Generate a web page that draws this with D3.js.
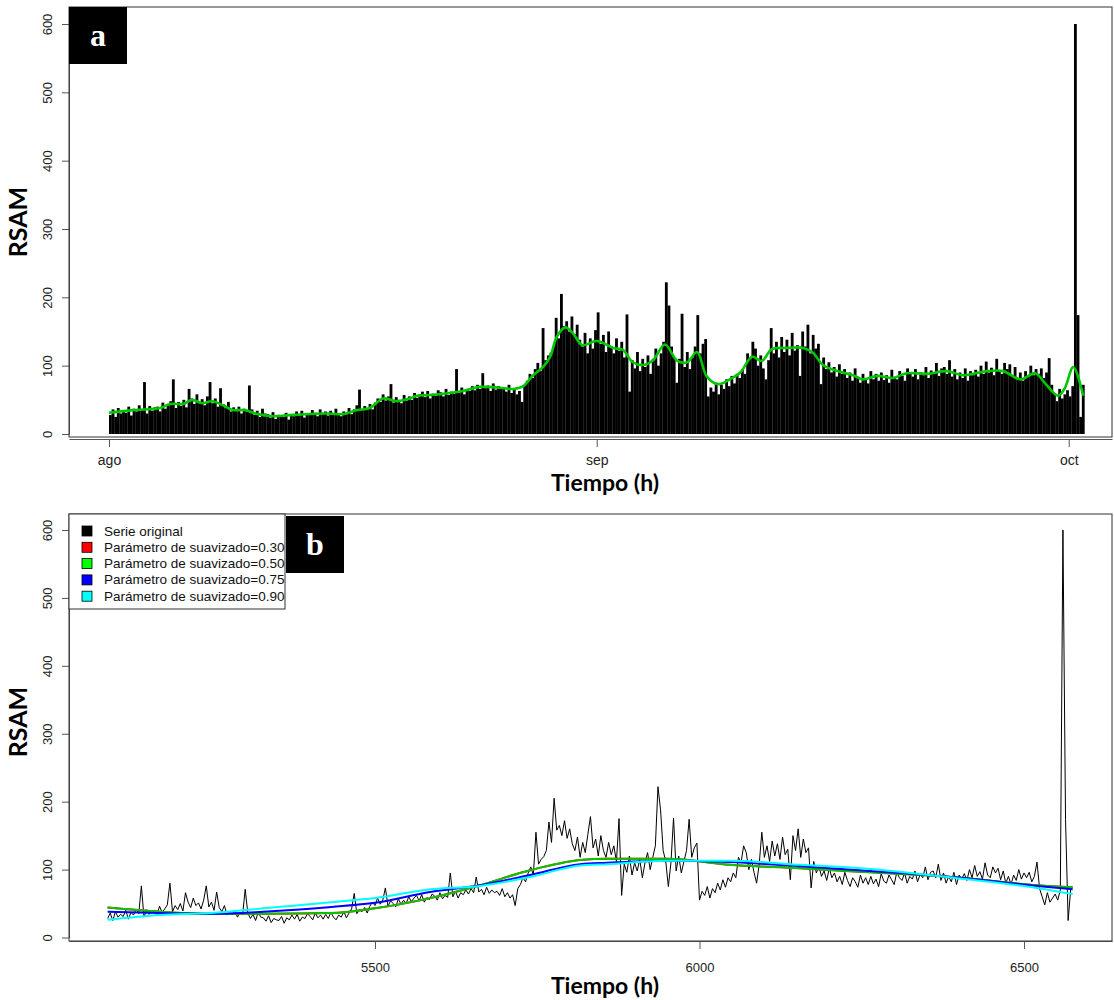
<!DOCTYPE html>
<html>
<head>
<meta charset="utf-8">
<script src="https://cdn.jsdelivr.net/npm/d3@7"></script>
<style>
body { margin: 0; background: #fff; }
</style>
</head>
<body>
<script>
// serie RSAM, un valor cada 4 horas desde el 1 de agosto (hora 5088 del año)
var startHour = 5088;
var stepHours = 4;
var rsam = [
  28, 36, 25, 38, 30, 34,   31, 40, 27, 37, 33, 42,   35, 76, 30, 41, 34, 39,
  40, 33, 46, 37, 42, 48,   80, 38, 47, 41, 50, 39,   66, 52, 44, 58, 47, 51,
  42, 55, 76, 45, 52, 40,   67, 44, 38, 47, 33, 39,   34, 40, 30, 37, 33, 71,
  36, 28, 34, 25, 37, 30,   29, 24, 32, 22, 28, 26,   25, 31, 21, 29, 26, 33,
  27, 34, 24, 30, 28, 35,   31, 26, 36, 29, 33, 27,   34, 28, 37, 30, 26, 33,
  30, 38, 29, 36, 42, 65,   35, 41, 38, 44, 36, 46,   52, 47, 58, 49, 55, 73,
  46, 54, 50, 45, 57, 49,   55, 50, 60, 53, 58, 62,   54, 63, 52, 59, 56, 64,
  61, 55, 66, 57, 62, 59,   95, 60, 68, 58, 66, 63,   70, 64, 72, 66, 89, 67,
  71, 63, 74, 65, 70, 66,   68, 62, 72, 60, 66, 58,   63, 47, 72, 78, 88, 82,
  95, 104, 92, 155, 108, 115,   119, 128, 170, 140, 205, 158,   165, 150, 172, 146, 160, 138,
  128, 148, 118, 140, 125, 152,   178, 132, 145, 120, 150, 128,   118, 140, 122, 135, 112, 175,
  62, 108, 96, 120, 92, 110,   98, 115, 88, 110, 125, 100,   118, 135, 222, 188, 128, 112,
  75, 110, 176, 98, 120, 95,   112, 128, 174, 118, 132, 139,   55, 68, 62, 75, 58, 72,
  66, 80, 70, 85, 74, 88,   82, 95, 88, 118, 110, 135,   125, 100, 115, 96, 80, 108,
  155, 118, 135, 112, 142, 120,   138, 115, 148, 122, 130, 85,   150, 128, 160, 118, 145, 125,
  132, 73, 112, 95, 105, 90,   98, 84, 102, 88, 95, 82,   90, 78, 96, 84, 75, 88,
  82, 74, 92, 80, 88, 78,   90, 79, 86, 75, 94, 83,   80, 92, 85, 78, 96, 88,
  84, 95, 80, 90, 86, 98,   82, 93, 88, 104, 85, 96,   98, 88, 108, 84, 95, 80,
  90, 82, 96, 78, 92, 86,   94, 84, 100, 88, 106, 90,   97, 86, 110, 92, 88, 104,
  95, 102, 85, 98, 80, 90,   78, 92, 84, 100, 86, 95,   88, 96, 82, 90, 111, 72,
  60, 48, 66, 52, 58, 64,   55, 70, 600, 174, 25, 72
];

// suavizado del panel a (horas desde el 1 de agosto)
var smoothAHours = [0, 37, 78, 93, 113, 127, 142, 157, 174, 189, 207, 223, 250, 281, 333, 357, 378, 398, 418, 439, 459, 470, 490, 520, 540, 566, 592, 619, 632, 647, 662, 673, 683, 696, 708, 722, 744, 769, 784, 799, 815, 830, 848, 867, 882, 897, 912, 929, 947, 963, 981, 996, 1011, 1034, 1059, 1074, 1089, 1115, 1135, 1150, 1172, 1196, 1217, 1248, 1278, 1303, 1339, 1364, 1390, 1413, 1428, 1448, 1458, 1471, 1486];
var smoothAValues = [31, 35, 38, 44, 44, 50, 45, 48, 42, 35, 35, 30, 26, 28, 30, 29, 35, 38, 52, 48, 52, 56, 57, 60, 63, 69, 68, 66, 70, 86, 98, 113, 142, 156, 147, 130, 136, 126, 123, 105, 101, 108, 131, 107, 105, 120, 84, 73, 80, 90, 113, 107, 124, 126, 126, 119, 101, 91, 86, 80, 85, 82, 89, 88, 92, 86, 92, 92, 80, 89, 74, 56, 67, 98, 56];

// curvas loess del panel b (horas desde el 1 de agosto)
var loessHours = [0, 80, 160, 240, 345, 412, 497, 574, 651, 728, 770, 862, 959, 1067, 1175, 1313, 1432, 1487];
var loess030 = [44, 38, 35, 35, 36, 43, 58, 77, 99, 114, 116, 116, 107, 102, 96, 88, 77, 74];
var loess050 = [44, 38, 35, 35, 36, 43, 58, 77, 99, 114, 116, 116, 107, 102, 96, 88, 77, 74];
var loess075 = [38, 36, 35, 38, 45, 51, 67, 77, 92, 108, 110, 113, 111, 105, 98, 88, 76, 71];
var loess090 = [26, 33, 36, 43, 52, 58, 71, 76, 89, 106, 108, 113, 113, 107, 101, 87, 73, 64];

var monthLabels = ["ago", "sep", "oct"];
var yTicks = [0, 100, 200, 300, 400, 500, 600];
var hourTicks = [5500, 6000, 6500];
var legendLabels = ["Serie original", "Parámetro de suavizado=0.30", "Parámetro de suavizado=0.50",
                    "Parámetro de suavizado=0.75", "Parámetro de suavizado=0.90"];
var legendColors = ["#000000", "#ff0000", "#00ff00", "#0000ff", "#00ffff"];
var lineColors = ["#ff0000", "#00c800", "#0000ff", "#00ffff"];

var W = 1114, H = 1000;
var svg = d3.select("body").append("svg").attr("width", W).attr("height", H);

var tickFont = "'Liberation Sans', Arial, sans-serif";
var titleFont = "Lato, 'Open Sans', sans-serif";
var t0 = Date.UTC(2019, 7, 1);
function hourDate(h) { return new Date(t0 + h * 3600e3); }

var boxL = 69, boxR = 1112;

// ---------- panel a ----------
var aTop = 7, aBot = 437;
var xA = d3.scaleUtc().domain([hourDate(-61), hourDate(1530)]).range([boxL, boxR]);
var yA = d3.scaleLinear().domain([0, 600]).range([434, 24]);

var gA = svg.append("g");
gA.selectAll("rect.bar")
  .data(rsam)
  .enter()
  .append("rect")
  .attr("class", "bar")
  .attr("x", function(d, i) { return xA(hourDate(i * stepHours)); })
  .attr("width", function(d, i) { return xA(hourDate((i + 1) * stepHours)) - xA(hourDate(i * stepHours)) + 0.2; })
  .attr("y", function(d) { return yA(d); })
  .attr("height", function(d) { return yA(0) - yA(d); })
  .attr("fill", "#000");

var smoothA = smoothAHours.map(function(h, i) { return [h, smoothAValues[i]]; });
gA.append("path")
  .datum(smoothA)
  .attr("fill", "none")
  .attr("stroke", "#00c800")
  .attr("stroke-width", 2.6)
  .attr("d", d3.line()
    .x(function(d) { return xA(hourDate(d[0])); })
    .y(function(d) { return yA(d[1]); })
    .curve(d3.curveCatmullRom));

// y axis a
var yAxisA = gA.append("g")
  .attr("transform", "translate(" + boxL + ",0)")
  .call(d3.axisLeft(yA).tickValues(yTicks).tickSize(7).tickSizeOuter(0));

// x axis a (meses)
var monthDates = [hourDate(0), hourDate(744), hourDate(1464)];
var xAxisA = gA.append("g")
  .attr("transform", "translate(0," + (aBot + 2) + ")")
  .call(d3.axisBottom(xA).tickValues(monthDates).tickSize(8).tickSizeOuter(0)
    .tickFormat(function(d, i) { return monthLabels[i]; }));
xAxisA.selectAll("text").attr("dy", "1.05em");

gA.append("rect")
  .attr("x", boxL).attr("y", aTop)
  .attr("width", boxR - boxL).attr("height", aBot - aTop)
  .attr("fill", "none").attr("stroke", "#333").attr("stroke-width", 1);

// ---------- panel b ----------
var bTop = 514, bBot = 941;
var xB = d3.scaleLinear().domain([5028.5, 6635.6]).range([boxL, boxR]);
var yB = d3.scaleLinear().domain([0, 600]).range([937.5, 530]);

var gB = svg.append("g");
gB.append("path")
  .datum(rsam)
  .attr("fill", "none")
  .attr("stroke", "#000")
  .attr("stroke-width", 1)
  .attr("d", d3.line()
    .x(function(d, i) { return xB(startHour + i * stepHours); })
    .y(function(d) { return yB(d); }));

var loessSeries = [loess030, loess050, loess075, loess090];
loessSeries.forEach(function(vals, k) {
  gB.append("path")
    .datum(vals)
    .attr("fill", "none")
    .attr("stroke", lineColors[k])
    .attr("stroke-width", 2)
    .attr("d", d3.line()
      .x(function(d, i) { return xB(startHour + loessHours[i]); })
      .y(function(d) { return yB(d); })
      .curve(d3.curveMonotoneX));
});

var yAxisB = gB.append("g")
  .attr("transform", "translate(" + boxL + ",0)")
  .call(d3.axisLeft(yB).tickValues(yTicks).tickSize(7).tickSizeOuter(0));

var xAxisB = gB.append("g")
  .attr("transform", "translate(0," + bBot + ")")
  .call(d3.axisBottom(xB).tickValues(hourTicks).tickSize(8).tickSizeOuter(0)
    .tickFormat(d3.format("d")));
xAxisB.selectAll("text").attr("dy", "1.55em");

gB.append("rect")
  .attr("x", boxL).attr("y", bTop)
  .attr("width", boxR - boxL).attr("height", bBot - bTop)
  .attr("fill", "none").attr("stroke", "#333").attr("stroke-width", 1);

// estilo de ejes
[yAxisA, yAxisB].forEach(function(ax) {
  ax.selectAll("text")
    .attr("x", 0).attr("dy", 0)
    .attr("transform", "translate(-17,0) rotate(-90)")
    .attr("text-anchor", "middle");
});
[yAxisA, yAxisB, xAxisA, xAxisB].forEach(function(ax) {
  ax.select(".domain").attr("stroke", "#555");
  ax.selectAll(".tick line").attr("stroke", "#555");
  ax.selectAll("text").attr("font-family", tickFont).attr("font-size", 13).attr("fill", "#222");
});
xAxisA.selectAll("text").attr("font-size", 14);

// titulos
[[222, 605, 491], [722, 605, 994]].forEach(function(p) {
  svg.append("text")
    .attr("transform", "translate(27," + p[0] + ") rotate(-90)")
    .attr("text-anchor", "middle")
    .attr("font-family", titleFont).attr("font-weight", "bold").attr("font-size", 25)
    .text("RSAM");
  svg.append("text")
    .attr("x", p[1]).attr("y", p[2])
    .attr("text-anchor", "middle")
    .attr("font-family", titleFont).attr("font-weight", "bold").attr("font-size", 23)
    .text("Tiempo (h)");
});

// etiquetas a / b
[["a", 69, 7], ["b", 286, 516]].forEach(function(p) {
  svg.append("rect").attr("x", p[1]).attr("y", p[2]).attr("width", 58).attr("height", 57).attr("fill", "#000");
  svg.append("text")
    .attr("x", p[1] + 29).attr("y", p[2] + 39)
    .attr("text-anchor", "middle")
    .attr("font-family", "'Liberation Serif', 'DejaVu Serif', serif")
    .attr("font-weight", "bold").attr("font-size", 32).attr("fill", "#fff")
    .text(p[0]);
});

// leyenda
var leg = svg.append("g");
leg.append("rect")
  .attr("x", boxL).attr("y", bTop).attr("width", 216).attr("height", 95)
  .attr("fill", "#fff").attr("stroke", "#333");
legendLabels.forEach(function(lab, i) {
  var cy = 531 + i * 16.3;
  leg.append("rect")
    .attr("x", 82).attr("y", cy - 5).attr("width", 10).attr("height", 10)
    .attr("fill", legendColors[i]).attr("stroke", "#000").attr("stroke-width", 0.8);
  leg.append("text")
    .attr("x", 104).attr("y", cy + 4.5)
    .attr("font-family", tickFont).attr("font-size", 13.5).attr("fill", "#111")
    .text(lab);
});
</script>
</body>
</html>
